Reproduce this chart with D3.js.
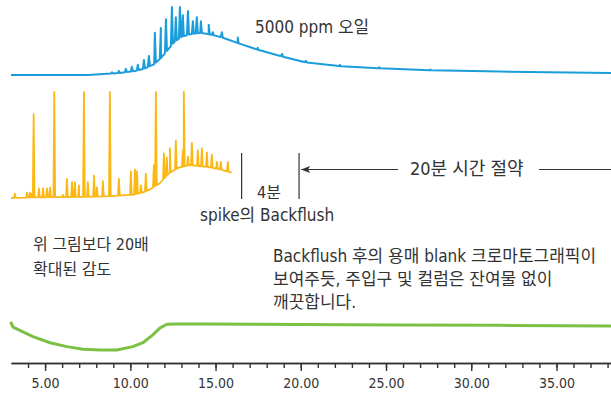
<!DOCTYPE html>
<html lang="ko">
<head>
<meta charset="UTF-8">
<script src="https://d3js.org/d3.v7.min.js"></script>
<style>
  body { margin: 0; background: #fff; }
  .lbl { font-family: "Liberation Sans Narrow", "DejaVu Sans Condensed", "Noto Sans CJK KR", sans-serif; fill: #333; font-size: 16px; }
  .axis text { font-family: "Liberation Sans Narrow", "DejaVu Sans Condensed", sans-serif; font-size: 14px; fill: #333; }
  .axis path, .axis line { stroke: #333; stroke-width: 1.4; }
</style>
</head>
<body>
<div class="chart"></div>
<script>
// retention time window (min)
var timeRange = [3, 38.2]
var majorTicks = [5, 10, 15, 20, 25, 30, 35]
var minorTicks = d3.range(4, 39)

// 5000 ppm oil (blue): hump envelope + peaks, relative signal 0-100
var blueBaseT = [3.0, 7.5, 8.2, 9.4, 10.3, 10.9, 11.4, 11.8, 12.2, 12.6, 13.0, 13.5, 14.1, 14.6, 15.3, 16.3, 17.5, 18.8, 20.2, 22.3, 24.6, 27.6, 31.7, 38.2]
var blueBaseV = [0, 0, 1, 3, 6, 10, 16, 25, 37, 49, 56, 60, 62, 60, 56, 47, 37, 28, 19, 13, 10, 7, 5, 3]
var bluePeaks = [[8.92, 4], [9.33, 6], [9.74, 9], [10.09, 12], [10.44, 15], [10.8, 22], [11.09, 28], [11.44, 62],
  [11.79, 69], [12.09, 82], [12.44, 100], [12.67, 85], [12.91, 100], [13.08, 88], [13.38, 94], [13.67, 79],
  [13.9, 85], [14.14, 79], [14.6, 74], [14.84, 63], [15.37, 63], [16.3, 55], [17.48, 40], [18.9, 31],
  [20.3, 21], [22.3, 15], [24.6, 11.5], [27.6, 8]]

// spike with backflush (orange)
var orangeBaseT = [3.0, 4.0, 7.0, 8.5, 9.5, 10.15, 10.7, 11.15, 11.73, 12.32, 12.9, 13.49, 14.08, 14.66, 15.25, 15.94]
var orangeBaseV = [0, 0.5, 1, 1.5, 2.5, 3, 5, 8, 14, 24, 29, 31, 30, 29, 27, 24]
var orangePeaks = [[3.23, 4], [3.94, 5], [4.11, 5], [4.23, 4], [4.33, 79], [4.64, 9], [4.88, 9], [5.11, 9], [5.29, 10],
  [5.54, 100], [6.05, 3], [6.28, 18], [6.58, 15], [6.75, 15], [6.99, 12], [7.28, 100], [7.51, 15], [7.87, 21],
  [8.04, 10], [8.39, 16], [8.80, 100], [9.33, 18], [10.03, 25], [10.27, 27], [10.39, 25], [10.62, 12], [10.91, 23],
  [11.38, 31], [11.50, 100], [11.97, 42], [12.14, 38], [12.32, 47], [12.67, 54], [13.08, 45], [13.14, 100],
  [13.38, 39], [13.61, 52], [13.96, 45], [14.20, 47], [14.49, 43], [14.78, 41], [15.08, 34], [15.31, 34], [15.72, 34]]

// solvent blank after backflush (green)
var greenT = [3.0, 3.03, 3.12, 3.7, 4.29, 5.29, 6.28, 7.22, 8.22, 9.21, 10.15, 10.74, 11.32, 11.73, 12.14, 12.73, 14.08, 19.94, 25.8, 31.66, 38.2]
var greenV = [101, 93, 82, 65, 48, 26, 12, 3, 0, 0, 12, 26, 54, 78, 92, 93, 93, 91, 89, 88, 86]

var width = 611, height = 394

var svg = d3.select(".chart").append("svg")
  .attr("width", width)
  .attr("height", height)

var x = d3.scaleLinear().domain(timeRange).range([11, 611])
var yBlue = d3.scaleLinear().domain([0, 100]).range([75, 7])
var yOrange = d3.scaleLinear().domain([0, 100]).range([198, 92])
var yGreen = d3.scaleLinear().domain([0, 100]).range([350, 322])

// merge envelope and peaks into one trace
function trace(baseT, baseV, peaks, halfW) {
  var env = d3.scaleLinear().domain(baseT).range(baseV)
  var pts = baseT.map(function (t, i) { return [t, baseV[i]] })
  peaks.forEach(function (p) {
    pts.push([p[0] - halfW, env(p[0] - halfW)])
    pts.push([p[0], p[1]])
    pts.push([p[0] + halfW, env(p[0] + halfW)])
  })
  return pts.sort(function (a, b) { return a[0] - b[0] })
}

function drawLine(pts, y, color, w) {
  svg.append("path")
    .datum(pts)
    .attr("fill", "none")
    .attr("stroke", color)
    .attr("stroke-width", w)
    .attr("stroke-linejoin", "round")
    .attr("d", d3.line().x(function (d) { return x(d[0]) }).y(function (d) { return y(d[1]) }))
}

drawLine(trace(blueBaseT, blueBaseV, bluePeaks, 0.06), yBlue, "#1b9ddb", 2)
drawLine(trace(orangeBaseT, orangeBaseV, orangePeaks, 0.05), yOrange, "#fbb814", 1.8)
drawLine(greenT.map(function (t, i) { return [t, greenV[i]] }), yGreen, "#7cc043", 3)

// axis
var axisY = 363
svg.append("g").attr("class", "axis")
  .attr("transform", "translate(0," + axisY + ")")
  .call(d3.axisBottom(x).tickValues(minorTicks).tickSize(5).tickSizeOuter(0).tickFormat(""))
svg.append("g").attr("class", "axis")
  .attr("transform", "translate(0," + axisY + ")")
  .call(d3.axisBottom(x).tickValues(majorTicks).tickSize(8).tickSizeOuter(0).tickPadding(7).tickFormat(d3.format(".2f")))

// annotations
function label(txt, tx, ty, size) {
  svg.append("text").attr("class", "lbl").attr("x", tx).attr("y", ty)
    .style("font-size", size + "px").text(txt)
}
label("5000 ppm 오일", 255, 33, 17)

var mark4 = x(16.53), mark20 = x(19.9)
svg.append("line").attr("x1", mark4).attr("x2", mark4).attr("y1", 153).attr("y2", 199).attr("stroke", "#333").attr("stroke-width", 1.2)
svg.append("line").attr("x1", mark20).attr("x2", mark20).attr("y1", 153).attr("y2", 199).attr("stroke", "#333").attr("stroke-width", 1.2)
svg.append("line").attr("x1", mark20 + 2).attr("x2", 398).attr("y1", 169.5).attr("y2", 169.5).attr("stroke", "#333").attr("stroke-width", 1)
svg.append("line").attr("x1", 539).attr("x2", 611).attr("y1", 169.5).attr("y2", 169.5).attr("stroke", "#333").attr("stroke-width", 1)
svg.append("path").attr("d", "M" + (mark20 + 2) + ",169.5 l9,-3.5 l-2,3.5 l2,3.5 z").attr("fill", "#333")

label("20분 시간 절약", 410, 175, 18)
label("4분", 257, 198, 16)
label("spike의 Backflush", 200, 221, 17)
label("위 그림보다 20배", 33, 250, 16)
label("확대된 감도", 33, 275, 16)
label("Backflush 후의 용매 blank 크로마토그래픽이", 273, 262, 17)
label("보여주듯, 주입구 및 컬럼은 잔여물 없이", 273, 285, 17)
label("깨끗합니다.", 273, 308, 17)
</script>
</body>
</html>
